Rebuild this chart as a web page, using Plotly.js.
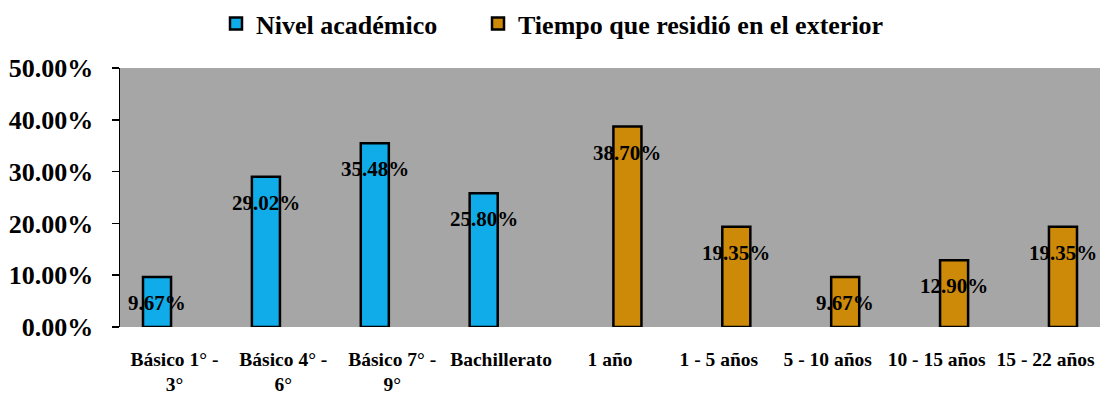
<!DOCTYPE html>
<html>
<head>
<meta charset="utf-8">
<script src="https://cdn.plot.ly/plotly-3.0.1.min.js"></script>
<style>html,body{margin:0;padding:0;background:#fff;}#chart{width:1102px;height:395px;}</style>
</head>
<body>
<div id="chart"></div>
<script>
const categories = ["Básico 1° -<br>3°", "Básico 4° -<br>6°", "Básico 7° -<br>9°", "Bachillerato", "1 año", "1 - 5 años", "5 - 10 años", "10 - 15 años", "15 - 22 años"];
const nivelAcademico = [9.67, 29.02, 35.48, 25.80, null, null, null, null, null];
const tiempoExterior = [null, null, null, null, 38.70, 19.35, 9.67, 12.90, 19.35];
const seriesNames = ["Nivel académico", "Tiempo que residió en el exterior"];

const FONT = "Liberation Serif";
const colors = ["#10acea", "#cc8a08"];
const series = [nivelAcademico, tiempoExterior];
const legendIds = ["legend", "legend2"];

const traces = series.map((vals, i) => ({
  type: "bar",
  name: seriesNames[i],
  x: categories,
  y: vals,
  legend: legendIds[i],
  marker: {color: colors[i], line: {color: "#000", width: 2.5}},
  hoverinfo: "skip"
}));

const offsets = [-17.4, 17.4];
const annotations = [];
series.forEach((vals, i) => {
  vals.forEach((v, k) => {
    if (v === null) return;
    annotations.push({
      x: categories[k], y: v, xref: "x", yref: "y",
      text: v.toFixed(2) + "%",
      showarrow: false,
      xshift: offsets[i], yshift: -26,
      font: {family: FONT, size: 21, color: "#000", weight: "bold"}
    });
  });
});

const legendFont = {family: FONT, size: 26, color: "#000", weight: "bold"};
const layout = {
  width: 1102, height: 395,
  margin: {l: 120, r: 2, t: 68, b: 68},
  paper_bgcolor: "#ffffff",
  plot_bgcolor: "#a6a6a6",
  barmode: "group",
  bargap: 0.36,
  bargroupgap: 0.195,
  showlegend: true,
  legend: {
    orientation: "h", xref: "container", yref: "container",
    x: 216 / 1102, y: 1.0, xanchor: "left", yanchor: "top",
    font: legendFont, bgcolor: "rgba(0,0,0,0)"
  },
  legend2: {
    orientation: "h", xref: "container", yref: "container",
    x: 478 / 1102, y: 1.0, xanchor: "left", yanchor: "top",
    font: legendFont, bgcolor: "rgba(0,0,0,0)"
  },
  xaxis: {
    type: "category",
    showline: false, showgrid: false, zeroline: false,
    ticks: "", tickangle: 0,
    tickfont: {family: FONT, size: 19.5, color: "#000", weight: "bold"},
    ticklabelstandoff: 18
  },
  yaxis: {
    range: [0, 50], dtick: 10, tick0: 0,
    tickformat: ".2f", ticksuffix: "%",
    showline: true, linecolor: "#000", linewidth: 1.5,
    ticks: "outside", ticklen: 7, tickcolor: "#000", tickwidth: 1.5,
    showgrid: false, zeroline: false,
    tickfont: {family: FONT, size: 26, color: "#000", weight: "bold"},
    ticklabelstandoff: 13
  },
  shapes: [{
    type: "rect", xref: "paper", yref: "y",
    x0: 0, x1: 1, y0: 0, y1: -3,
    ysizemode: "pixel", yanchor: 0,
    fillcolor: "#d0d0d0", line: {width: 0}, layer: "above"
  }],
  annotations: annotations
};

Plotly.newPlot("chart", traces, layout, {displayModeBar: false, staticPlot: true});
</script>
</body>
</html>
